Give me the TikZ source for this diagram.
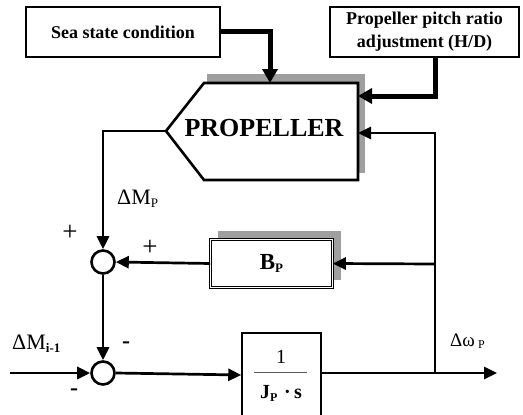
\documentclass[tikz,border=0pt]{standalone}
\usepackage{fontspec}
\setmainfont{Liberation Serif}
\usetikzlibrary{arrows.meta,calc}
\begin{document}
\begin{tikzpicture}[x=1pt,y=-1pt,
  conn/.style={line width=2.7pt,-{Triangle[length=13pt,width=12pt]}},
  thickconn/.style={line width=5pt,-{Triangle[length=14pt,width=15pt]}},
  boxtext/.style={draw,line width=1.2pt,fill=white,inner sep=0pt,align=center,font=\bfseries},
  sumnode/.style={circle,draw,line width=2.6pt,minimum size=23pt,inner sep=0pt,fill=white},
  lbl/.style={inner sep=0pt},
  shadowc/.style={fill=gray!75}]
\useasboundingbox (0,0) rectangle (523,415);
% boxes on top
\node[boxtext,minimum width=194pt,minimum height=50pt,font=\bfseries\fontsize{18}{20}\selectfont] (sea) at (123,32) {Sea state condition};
\node[boxtext,minimum width=189pt,minimum height=50pt,font=\bfseries\fontsize{18}{23}\selectfont] (pitch) at (424.5,32) {Propeller pitch ratio\\adjustment (H/D)};
% propeller
\fill[shadowc] (207,74) rectangle (365,173);
\coordinate (ptip) at (166,131);
\draw[line width=2.6pt,fill=white,line join=miter] (ptip) -- (204,83) -- (358,83) -- (358,180) -- (204,180) -- cycle;
\node[lbl,font=\bfseries\fontsize{26}{28}\selectfont] (prop) at (264,128) {PROPELLER};
\coordinate (ptop) at (270,83);
\coordinate (pin1) at (358,96);
\coordinate (pin2) at (358,133);
\coordinate (fbx) at (435,0);
% B_P
\fill[shadowc] (218,231) rectangle (341,280);
\node[draw,line width=0.6pt,double=white,double distance=1.2pt,fill=white,minimum width=122pt,minimum height=48pt,inner sep=0pt,font=\bfseries\fontsize{23}{24}\selectfont] (bp) at (271.5,263.5) {B\raisebox{-0.3ex}{\fontsize{13}{13}\selectfont P}};
% sums
\node[sumnode] (s1) at (103,262) {};
\node[sumnode] (s2) at (103,373) {};
% 1/(J s)
\node[draw,line width=1.5pt,minimum width=79pt,minimum height=84pt,inner sep=0pt] (js) at (281.5,375) {};
\node[lbl,font=\fontsize{20}{20}\selectfont] (one) at (281,357) {1};
\draw[line width=0.9pt,gray!70!black] (254,372) -- (307,372);
\node[lbl,font=\bfseries\fontsize{20}{20}\selectfont,anchor=base] (jps) at (281,398) {J\raisebox{-0.4ex}{\fontsize{12}{12}\selectfont P}\,\,·\,s};
\coordinate (in) at (10,373);
\coordinate (out) at (497,373);
\coordinate (j1) at (435,373);
\coordinate (j2) at (435,264);
% connectors
\draw[thickconn] (sea.east |- 0,31.5) -| (ptop);
\draw[thickconn] (pitch.south -| fbx) |- (pin1);
\draw[conn] (j1) |- (pin2);
\draw[conn] (j2) -- (bp.east);
\draw[conn] (bp.west) -- (s1.east);
\draw[conn] (ptip) -| (s1.north);
\draw[conn] (s1.south) -- (s2.north);
\draw[conn] (in) -- (s2.west);
\draw[conn] (s2.east) -- (js.west);
\draw[conn] (js.east |- j1) -- (out);
% labels
\node[lbl,font=\fontsize{22}{22}\selectfont,anchor=base west] (lmp) at (117,204) {ΔM\raisebox{-0.3ex}{\fontsize{13}{13}\selectfont P}};
\node[lbl,font=\fontsize{27}{27}\selectfont] (pl1) at (70,233) {+};
\node[lbl,font=\fontsize{27}{27}\selectfont] (pl2) at (150,248) {+};
\node[lbl,font=\bfseries\fontsize{24}{24}\selectfont] (mi1) at (126,345) {-};
\node[lbl,font=\bfseries\fontsize{24}{24}\selectfont] (mi2) at (74,392) {-};
\node[lbl,font=\fontsize{22}{22}\selectfont,anchor=base west] (lmi) at (12,349) {ΔM\raisebox{-0.3ex}{\bfseries\fontsize{13}{13}\selectfont i-1}};
\node[lbl,font=\fontsize{19}{20}\selectfont,anchor=base west] (lw) at (450,346) {Δω\,\raisebox{-0.3ex}{\fontsize{12}{12}\selectfont P}};
\end{tikzpicture}
\end{document}
